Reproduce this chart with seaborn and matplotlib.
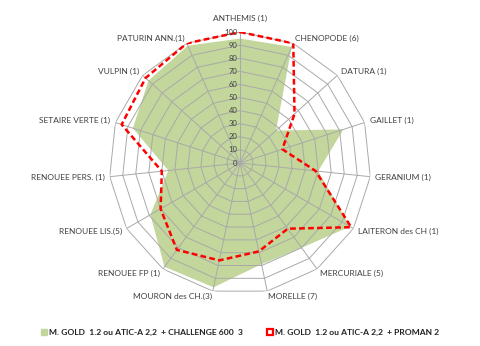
import numpy as np
import pandas as pd
import matplotlib
matplotlib.use("Agg")
import matplotlib.pyplot as plt
from matplotlib.patches import Patch
from matplotlib.lines import Line2D
from matplotlib.transforms import offset_copy
import seaborn as sns

# Weed species (number of sites) and control efficacy (%) for both programmes
categories = ["ANTHEMIS (1)", "CHENOPODE (6)", "DATURA (1)", "GAILLET (1)",
              "GERANIUM (1)", "LAITERON des CH (1)", "MERCURIALE (5)",
              "MORELLE (7)", "MOURON des CH.(3)", "RENOUEE FP (1)",
              "RENOUEE LIS.(5)", "RENOUEE PERS. (1)", "SETAIRE VERTE (1)",
              "VULPIN (1)", "PATURIN ANN.(1)"]
challenge = [95, 97, 37, 83, 60, 97, 80, 79, 97, 98, 79, 55, 86, 94, 98]
proman = [100, 100, 56, 34, 58, 98, 62, 69, 76, 82, 70, 60, 95, 97, 100]
radial_ticks = [0, 10, 20, 30, 40, 50, 60, 70, 80, 90, 100]

label_green = "M. GOLD  1.2 ou ATIC-A 2,2  + CHALLENGE 600  3"
label_red = "M. GOLD  1.2 ou ATIC-A 2,2  + PROMAN 2"

sns.set_style("white")
plt.rcParams["font.family"] = ["Lato", "DejaVu Sans"]

GREEN = "#c3d69b"
RED = "#ff0000"
GRID = "#a9a9a9"
TEXT = "#404040"

n = len(categories)
theta = np.arange(n) * 2 * np.pi / n
theta_c = np.append(theta, theta[0])

df = pd.DataFrame({
    "theta": theta_c,
    "challenge": challenge + challenge[:1],
    "proman": proman + proman[:1],
})

fig = plt.figure(figsize=(4.8, 3.46), dpi=100)
ax = fig.add_axes([0.2271, 0.1503, 0.5458, 0.7572], projection="polar")
ax.set_theta_zero_location("N")
ax.set_theta_direction(-1)
ax.set_ylim(0, 100)
ax.set_xticks([])
ax.set_yticks([])
ax.grid(False)
ax.spines["polar"].set_visible(False)
ax.patch.set_alpha(0)

# filled area series
ax.fill(df["theta"], df["challenge"], color=GREEN, lw=0, zorder=1)

# polygonal grid and spokes
for v in radial_ticks[1:]:
    ax.plot(theta_c, [v] * (n + 1), color=GRID, lw=0.7, zorder=2)
for t in theta:
    ax.plot([t, t], [0, 100], color=GRID, lw=0.7, zorder=2)

# dashed line series
sns.lineplot(data=df, x="theta", y="proman", sort=False, estimator=None,
             ax=ax, color=RED, lw=1.8, zorder=3)
ax.lines[-1].set_dashes((2.3, 1.3))
ax.set_xlabel("")
ax.set_ylabel("")

# radial value labels along the top spoke
tr = offset_copy(ax.transData, fig=fig, x=-2, y=0, units="points")
for v in radial_ticks:
    ax.text(0, v, str(v), transform=tr, ha="right", va="center",
            fontsize=5.5, color=TEXT, zorder=4)

# category labels
for t, lab in zip(theta, categories):
    deg = np.degrees(t)
    if deg == 0:
        ax.text(t, 110, lab, ha="center", va="center", fontsize=6, color=TEXT)
        continue
    ha = "left" if deg < 180 else "right"
    ax.text(t, 104, lab, ha=ha, va="center", fontsize=6, color=TEXT)

handles = [
    Patch(facecolor=GREEN, edgecolor=GREEN),
    Line2D([0], [0], marker="s", color="none", markerfacecolor="white",
           markeredgecolor=RED, markeredgewidth=1.6, markersize=4.5),
]
fig.legend(handles, [label_green, label_red], loc="center",
           bbox_to_anchor=(0.5, 0.04), ncol=2, frameon=False,
           prop={"size": 6.1, "weight": "bold"}, handlelength=0.7,
           handleheight=0.7, handletextpad=0.3, columnspacing=2.8,
           labelcolor="#202020")

fig.savefig("out.png", dpi=100, facecolor="white")
